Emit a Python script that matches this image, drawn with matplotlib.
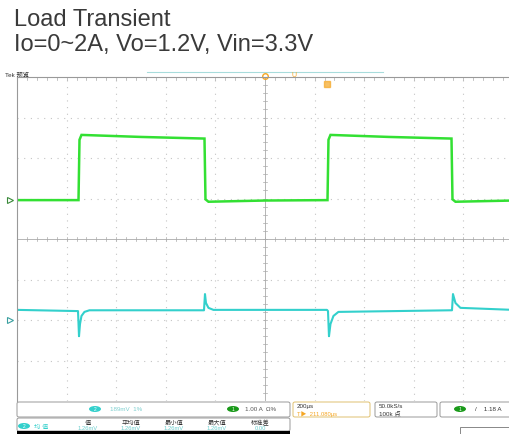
import matplotlib
matplotlib.use("Agg")
import matplotlib.pyplot as plt
from matplotlib.patches import FancyBboxPatch, Rectangle, Ellipse

plt.rcParams['font.family'] = ['Liberation Sans', 'Noto Sans CJK SC', 'DejaVu Sans']

# ---- data (screen divisions: x 0..10, y -4..4) ----
ch1_t = [0.0, 1.24, 1.26, 1.30, 2.50, 3.78, 3.80, 3.86, 5.0, 6.26, 6.28, 6.32, 7.50, 8.76, 8.78, 8.84, 10.0]
ch1_v = [0.96, 0.96, 2.45, 2.57, 2.52, 2.48, 0.98, 0.92, 0.95, 0.96, 2.45, 2.57, 2.52, 2.48, 0.98, 0.92, 0.95]

ch2_t = [0.0, 1.23, 1.25, 1.27, 1.30, 1.36, 1.46, 3.77, 3.79, 3.81, 3.86, 3.96,
         6.25, 6.27, 6.29, 6.32, 6.38, 6.48, 8.75, 8.77, 8.79, 8.84, 8.94, 10.0]
ch2_v = [-1.75, -1.78, -2.40, -2.10, -1.90, -1.80, -1.76, -1.76, -1.36, -1.58, -1.70, -1.75,
         -1.75, -1.78, -2.40, -2.10, -1.90, -1.80, -1.76, -1.76, -1.36, -1.58, -1.70, -1.75]

ch1_offset = 0.96
ch2_offset = -2.0
trig_pos = 5.0
trig_level = 3.83
record_view = [2.62, 7.38]

title_lines = ["Load Transient", "Io=0~2A, Vo=1.2V, Vin=3.3V"]
stat_headers = ["值", "平均值", "最小值", "最大值", "标准差"]
stat_values = ["1.26mV", "1.26mV", "1.26mV", "1.26mV", "0.00"]

GREEN = "#33e033"
CYAN = "#33d0cc"
ORANGE = "#f5a623"
GRID = "#c4c4c4"

W, H = 510, 435
fig = plt.figure(figsize=(W / 100, H / 100), dpi=100)


def fx(x):
    return x / W


def fy(y):
    return 1 - y / H


# title
fig.text(fx(14), fy(20), title_lines[0], fontsize=17, color="#3a3a3a", va="center")
fig.text(fx(14), fy(45), title_lines[1], fontsize=17, color="#3a3a3a", va="center")

# scope screen
ax = fig.add_axes([fx(17), fy(402), 496 / W, 324 / H])
ax.set_xlim(0, 10)
ax.set_ylim(-4, 4)
ax.set_xticks([])
ax.set_yticks([])
for s in ["right", "bottom"]:
    ax.spines[s].set_visible(False)
for s in ["left", "top"]:
    ax.spines[s].set_color("#999999")
    ax.spines[s].set_linewidth(0.8)

for i in range(1, 10):
    if i != 5:
        ax.axvline(i, color=GRID, lw=0.8, ls=(0, (1, 5)))
for j in range(-3, 4):
    if j != 0:
        ax.axhline(j, color=GRID, lw=0.8, ls=(0, (1, 5)))
ax.axvline(5, color="#aaaaaa", lw=0.6)
ax.axhline(0, color="#aaaaaa", lw=0.6)
# minor ticks on the centre cross and top edge
for k in range(1, 50):
    x = k * 0.2
    ax.plot([x, x], [-0.05, 0.05], color="#aaaaaa", lw=0.5)
    ax.plot([x, x], [3.93, 4.0], color="#aaaaaa", lw=0.5)
for k in range(-19, 20):
    y = k * 0.2
    ax.plot([4.95, 5.05], [y, y], color="#aaaaaa", lw=0.5)

ax.plot(ch1_t, ch1_v, color=GREEN, lw=1.8, solid_joinstyle="miter")
ax.plot(ch2_t, ch2_v, color=CYAN, lw=1.5)

# channel markers
ax.plot([-0.14], [ch1_offset], marker=">", ms=5, mfc="none", mec="#3a8a3a", mew=0.8, clip_on=False)
ax.plot([-0.14], [ch2_offset], marker=">", ms=5, mfc="none", mec="#3aa0a0", mew=0.8, clip_on=False)

# record view bar and trigger markers
ax.plot(record_view, [4.12, 4.12], color="#a8dcdc", lw=0.8, clip_on=False)
ax.plot([trig_pos], [4.03], marker="o", ms=4, mfc="none", mec=ORANGE, clip_on=False)
ax.text(trig_pos + 0.58, 4.06, "U", color=ORANGE, fontsize=5, ha="center", va="center", clip_on=False)
ax.plot([6.25], [trig_level], marker="s", ms=4, color=ORANGE, alpha=0.7)

fig.text(fx(5), fy(75), "Tek 预览", fontsize=4.5, color="#333333", va="center")

# bottom info panel
def box(x0, y0, x1, y1, ec="#999999"):
    fig.patches.append(FancyBboxPatch((fx(x0), fy(y1)), fx(x1 - x0), (y1 - y0) / H,
                                      boxstyle="round,pad=0,rounding_size=0.004",
                                      transform=fig.transFigure, fc="white", ec=ec, lw=0.7))


def badge(x, y, color, label):
    fig.patches.append(Ellipse((fx(x), fy(y)), 12 / W, 6 / H, transform=fig.transFigure,
                               fc=color, ec="none"))
    fig.text(fx(x), fy(y), label, fontsize=3.5, color="white", ha="center", va="center")


box(17, 403, 290, 418)
badge(95, 410, CYAN, "2")
fig.text(fx(110), fy(410), "189mV  1%", fontsize=4.5, color="#7fcfcf", va="center")
badge(233, 410, "#1a9a1a", "1")
fig.text(fx(245), fy(410), "1.00 A  Ω%", fontsize=4.5, color="#555555", va="center")

box(293, 403, 370, 418, ec="#e0c070")
fig.text(fx(297), fy(406.5), "200µs", fontsize=4.5, color="#333333", va="center")
fig.text(fx(297), fy(414), "T▶  211.080µs", fontsize=4.2, color=ORANGE, va="center")

box(375, 403, 437, 418)
fig.text(fx(379), fy(406.5), "50.0kS/s", fontsize=4.5, color="#333333", va="center")
fig.text(fx(379), fy(413.5), "100k 点", fontsize=4.5, color="#333333", va="center")

box(440, 403, 512, 418)
badge(460, 410, "#1a9a1a", "1")
fig.text(fx(475), fy(410), "/    1.18 A", fontsize=4.5, color="#333333", va="center")

box(17, 419, 290, 432)
badge(24, 427, CYAN, "2")
fig.text(fx(34), fy(427), "均 值", fontsize=4.5, color=CYAN, va="center")
for i, (h, v) in enumerate(zip(stat_headers, stat_values)):
    xc = 88 + i * 43
    fig.text(fx(xc), fy(423), h, fontsize=4.5, color="#333333", ha="center", va="center")
    fig.text(fx(xc), fy(429), v, fontsize=4.2, color="#6fcfcf", ha="center", va="center")
fig.patches.append(Rectangle((fx(17), 0), fx(273), 3 / H, transform=fig.transFigure,
                             fc="black", ec="none"))
fig.patches.append(Rectangle((fx(460), 0), fx(60), 7 / H, transform=fig.transFigure,
                             fc="white", ec="#888888", lw=0.7))

fig.savefig("out.png", dpi=100)
